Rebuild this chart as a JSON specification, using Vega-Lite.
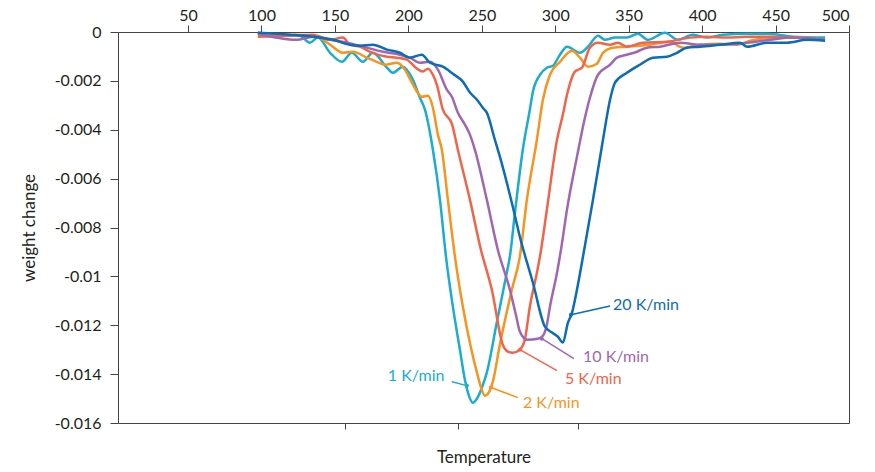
{
"$schema": "https://vega.github.io/schema/vega-lite/v6.json",
"width": 731, "height": 391,
"autosize": {"type": "none"},
"padding": {"left": 118, "top": 32, "right": 26, "bottom": 49},
"background": "white",
"config": {"font": "Lato", "view": {"stroke": "#444", "strokeWidth": 1},
 "axis": {"labelFont": "Lato", "titleFont": "Lato", "labelFontSize": 16, "titleFontSize": 17, "titleFontWeight": "normal", "labelColor": "#231f20", "titleColor": "#231f20", "tickColor": "#444", "domainColor": "#444", "grid": false}},
"datasets": {
"curves": [
{"s":"1 K/min","T":97.5,"w":-0.00003},{"s":"1 K/min","T":112.5,"w":-0.00011},{"s":"1 K/min","T":126.1,"w":-0.00015},{"s":"1 K/min","T":132.9,"w":-0.00044},{"s":"1 K/min","T":138.4,"w":-0.00023},{"s":"1 K/min","T":146.7,"w":-0.00085},{"s":"1 K/min","T":154.8,"w":-0.00122},{"s":"1 K/min","T":161.5,"w":-0.00085},{"s":"1 K/min","T":169.0,"w":-0.00122},{"s":"1 K/min","T":175.8,"w":-0.00085},{"s":"1 K/min","T":185.4,"w":-0.00146},{"s":"1 K/min","T":189.4,"w":-0.00167},{"s":"1 K/min","T":196.2,"w":-0.00142},{"s":"1 K/min","T":202.4,"w":-0.00187},{"s":"1 K/min","T":207.9,"w":-0.00269},{"s":"1 K/min","T":211.3,"w":-0.00318},{"s":"1 K/min","T":216.7,"w":-0.00482},{"s":"1 K/min","T":221.5,"w":-0.00686},{"s":"1 K/min","T":225.6,"w":-0.00919},{"s":"1 K/min","T":230.3,"w":-0.01124},{"s":"1 K/min","T":235.1,"w":-0.013},{"s":"1 K/min","T":238.5,"w":-0.01423},{"s":"1 K/min","T":241.2,"w":-0.01488},{"s":"1 K/min","T":243.9,"w":-0.01517},{"s":"1 K/min","T":246.7,"w":-0.015},{"s":"1 K/min","T":250.1,"w":-0.01455},{"s":"1 K/min","T":253.4,"w":-0.01394},{"s":"1 K/min","T":260.2,"w":-0.01189},{"s":"1 K/min","T":267.0,"w":-0.00985},{"s":"1 K/min","T":269.1,"w":-0.00919},{"s":"1 K/min","T":272.5,"w":-0.00743},{"s":"1 K/min","T":277.9,"w":-0.00482},{"s":"1 K/min","T":282.7,"w":-0.00318},{"s":"1 K/min","T":284.8,"w":-0.00244},{"s":"1 K/min","T":289.6,"w":-0.00175},{"s":"1 K/min","T":294.3,"w":-0.00146},{"s":"1 K/min","T":298.4,"w":-0.00138},{"s":"1 K/min","T":303.2,"w":-0.00093},{"s":"1 K/min","T":308.0,"w":-0.0006},{"s":"1 K/min","T":316.8,"w":-0.00085},{"s":"1 K/min","T":322.3,"w":-0.0006},{"s":"1 K/min","T":329.1,"w":-0.00015},{"s":"1 K/min","T":333.8,"w":-0.00032},{"s":"1 K/min","T":340.7,"w":-0.00023},{"s":"1 K/min","T":348.8,"w":-0.00023},{"s":"1 K/min","T":356.3,"w":-0.00007},{"s":"1 K/min","T":363.1,"w":-0.00032},{"s":"1 K/min","T":374.7,"w":-0.00003},{"s":"1 K/min","T":383.5,"w":-0.00032},{"s":"1 K/min","T":393.7,"w":-0.00011},{"s":"1 K/min","T":403.3,"w":-0.00023},{"s":"1 K/min","T":414.2,"w":-0.00011},{"s":"1 K/min","T":430.6,"w":-0.00007},{"s":"1 K/min","T":444.2,"w":-0.00007},{"s":"1 K/min","T":461.9,"w":-0.00019},{"s":"1 K/min","T":483.7,"w":-0.00023},
{"s":"2 K/min","T":97.5,"w":-0.00011},{"s":"2 K/min","T":124.0,"w":-0.00011},{"s":"2 K/min","T":137.7,"w":-0.00019},{"s":"2 K/min","T":146.7,"w":-0.00052},{"s":"2 K/min","T":155.4,"w":-0.00085},{"s":"2 K/min","T":162.2,"w":-0.00081},{"s":"2 K/min","T":171.7,"w":-0.00105},{"s":"2 K/min","T":178.5,"w":-0.00122},{"s":"2 K/min","T":184.0,"w":-0.00134},{"s":"2 K/min","T":192.1,"w":-0.00126},{"s":"2 K/min","T":197.6,"w":-0.00154},{"s":"2 K/min","T":202.4,"w":-0.00207},{"s":"2 K/min","T":209.2,"w":-0.00265},{"s":"2 K/min","T":213.3,"w":-0.00261},{"s":"2 K/min","T":216.7,"w":-0.0031},{"s":"2 K/min","T":220.1,"w":-0.0042},{"s":"2 K/min","T":222.8,"w":-0.00482},{"s":"2 K/min","T":226.9,"w":-0.00686},{"s":"2 K/min","T":231.7,"w":-0.00919},{"s":"2 K/min","T":237.1,"w":-0.01124},{"s":"2 K/min","T":242.6,"w":-0.01292},{"s":"2 K/min","T":246.7,"w":-0.01394},{"s":"2 K/min","T":249.3,"w":-0.01451},{"s":"2 K/min","T":252.1,"w":-0.01488},{"s":"2 K/min","T":254.8,"w":-0.01475},{"s":"2 K/min","T":257.5,"w":-0.01431},{"s":"2 K/min","T":262.3,"w":-0.01279},{"s":"2 K/min","T":270.5,"w":-0.01054},{"s":"2 K/min","T":275.9,"w":-0.00919},{"s":"2 K/min","T":280.7,"w":-0.00686},{"s":"2 K/min","T":287.5,"w":-0.00441},{"s":"2 K/min","T":291.6,"w":-0.00277},{"s":"2 K/min","T":296.4,"w":-0.00175},{"s":"2 K/min","T":303.2,"w":-0.00122},{"s":"2 K/min","T":311.4,"w":-0.00077},{"s":"2 K/min","T":316.8,"w":-0.00105},{"s":"2 K/min","T":322.3,"w":-0.00142},{"s":"2 K/min","T":328.4,"w":-0.0013},{"s":"2 K/min","T":332.5,"w":-0.00085},{"s":"2 K/min","T":339.3,"w":-0.00064},{"s":"2 K/min","T":348.8,"w":-0.0006},{"s":"2 K/min","T":364.5,"w":-0.00052},{"s":"2 K/min","T":378.1,"w":-0.0004},{"s":"2 K/min","T":386.9,"w":-0.00064},{"s":"2 K/min","T":398.5,"w":-0.00052},{"s":"2 K/min","T":412.1,"w":-0.00048},{"s":"2 K/min","T":423.7,"w":-0.00052},{"s":"2 K/min","T":432.7,"w":-0.00036},{"s":"2 K/min","T":448.3,"w":-0.00023},{"s":"2 K/min","T":466.7,"w":-0.00023},{"s":"2 K/min","T":483.7,"w":-0.00032},
{"s":"5 K/min","T":97.5,"w":-0.00019},{"s":"5 K/min","T":119.2,"w":-0.00015},{"s":"5 K/min","T":134.9,"w":-0.00011},{"s":"5 K/min","T":146.7,"w":-0.00032},{"s":"5 K/min","T":155.4,"w":-0.00023},{"s":"5 K/min","T":160.2,"w":-0.00052},{"s":"5 K/min","T":167.0,"w":-0.0006},{"s":"5 K/min","T":173.8,"w":-0.00081},{"s":"5 K/min","T":185.4,"w":-0.00101},{"s":"5 K/min","T":192.1,"w":-0.00105},{"s":"5 K/min","T":198.9,"w":-0.00113},{"s":"5 K/min","T":205.8,"w":-0.0015},{"s":"5 K/min","T":209.9,"w":-0.00162},{"s":"5 K/min","T":213.3,"w":-0.0015},{"s":"5 K/min","T":216.7,"w":-0.00175},{"s":"5 K/min","T":219.4,"w":-0.00216},{"s":"5 K/min","T":223.5,"w":-0.00318},{"s":"5 K/min","T":229.6,"w":-0.00375},{"s":"5 K/min","T":233.7,"w":-0.00482},{"s":"5 K/min","T":241.9,"w":-0.00686},{"s":"5 K/min","T":249.4,"w":-0.00891},{"s":"5 K/min","T":256.8,"w":-0.01054},{"s":"5 K/min","T":264.3,"w":-0.0128},{"s":"5 K/min","T":267.7,"w":-0.01308},{"s":"5 K/min","T":271.1,"w":-0.01313},{"s":"5 K/min","T":275.9,"w":-0.013},{"s":"5 K/min","T":279.3,"w":-0.01259},{"s":"5 K/min","T":282.7,"w":-0.01124},{"s":"5 K/min","T":287.5,"w":-0.00985},{"s":"5 K/min","T":289.6,"w":-0.00919},{"s":"5 K/min","T":294.3,"w":-0.00727},{"s":"5 K/min","T":301.2,"w":-0.00441},{"s":"5 K/min","T":305.2,"w":-0.00338},{"s":"5 K/min","T":308.0,"w":-0.00257},{"s":"5 K/min","T":313.4,"w":-0.00162},{"s":"5 K/min","T":318.2,"w":-0.00146},{"s":"5 K/min","T":323.6,"w":-0.00064},{"s":"5 K/min","T":329.1,"w":-0.00044},{"s":"5 K/min","T":337.3,"w":-0.00052},{"s":"5 K/min","T":342.7,"w":-0.00044},{"s":"5 K/min","T":348.8,"w":-0.0006},{"s":"5 K/min","T":359.7,"w":-0.00044},{"s":"5 K/min","T":376.0,"w":-0.0004},{"s":"5 K/min","T":391.7,"w":-0.00023},{"s":"5 K/min","T":403.3,"w":-0.00019},{"s":"5 K/min","T":416.9,"w":-0.00023},{"s":"5 K/min","T":430.6,"w":-0.00019},{"s":"5 K/min","T":444.2,"w":-0.00019},{"s":"5 K/min","T":461.9,"w":-0.00023},{"s":"5 K/min","T":483.7,"w":-0.00032},
{"s":"10 K/min","T":97.5,"w":-0.00007},{"s":"10 K/min","T":124.0,"w":-0.00032},{"s":"10 K/min","T":134.9,"w":-0.00019},{"s":"10 K/min","T":146.7,"w":-0.00032},{"s":"10 K/min","T":158.1,"w":-0.00044},{"s":"10 K/min","T":169.0,"w":-0.0006},{"s":"10 K/min","T":182.6,"w":-0.00081},{"s":"10 K/min","T":194.2,"w":-0.00093},{"s":"10 K/min","T":201.0,"w":-0.00105},{"s":"10 K/min","T":207.9,"w":-0.00126},{"s":"10 K/min","T":214.7,"w":-0.00122},{"s":"10 K/min","T":220.1,"w":-0.00154},{"s":"10 K/min","T":226.2,"w":-0.00236},{"s":"10 K/min","T":229.6,"w":-0.00265},{"s":"10 K/min","T":233.7,"w":-0.0033},{"s":"10 K/min","T":238.5,"w":-0.00379},{"s":"10 K/min","T":241.9,"w":-0.0042},{"s":"10 K/min","T":245.3,"w":-0.00482},{"s":"10 K/min","T":253.4,"w":-0.00686},{"s":"10 K/min","T":260.9,"w":-0.00891},{"s":"10 K/min","T":269.1,"w":-0.01054},{"s":"10 K/min","T":273.2,"w":-0.01157},{"s":"10 K/min","T":275.9,"w":-0.01226},{"s":"10 K/min","T":280.7,"w":-0.01259},{"s":"10 K/min","T":288.2,"w":-0.01255},{"s":"10 K/min","T":291.6,"w":-0.01243},{"s":"10 K/min","T":294.3,"w":-0.01198},{"s":"10 K/min","T":296.4,"w":-0.01124},{"s":"10 K/min","T":301.2,"w":-0.00985},{"s":"10 K/min","T":303.9,"w":-0.00891},{"s":"10 K/min","T":308.0,"w":-0.00727},{"s":"10 K/min","T":314.8,"w":-0.0051},{"s":"10 K/min","T":320.2,"w":-0.00351},{"s":"10 K/min","T":323.6,"w":-0.00269},{"s":"10 K/min","T":329.1,"w":-0.00175},{"s":"10 K/min","T":337.3,"w":-0.00134},{"s":"10 K/min","T":342.0,"w":-0.00105},{"s":"10 K/min","T":348.8,"w":-0.00093},{"s":"10 K/min","T":355.6,"w":-0.00081},{"s":"10 K/min","T":362.4,"w":-0.00064},{"s":"10 K/min","T":371.3,"w":-0.0006},{"s":"10 K/min","T":384.9,"w":-0.00044},{"s":"10 K/min","T":398.5,"w":-0.00052},{"s":"10 K/min","T":414.2,"w":-0.00052},{"s":"10 K/min","T":430.6,"w":-0.00044},{"s":"10 K/min","T":446.2,"w":-0.00032},{"s":"10 K/min","T":461.9,"w":-0.00023},{"s":"10 K/min","T":483.7,"w":-0.00032},
{"s":"20 K/min","T":97.5,"w":-0.00003},{"s":"20 K/min","T":119.2,"w":-0.00011},{"s":"20 K/min","T":134.9,"w":-0.00019},{"s":"20 K/min","T":148.7,"w":-0.00032},{"s":"20 K/min","T":160.2,"w":-0.00052},{"s":"20 K/min","T":167.0,"w":-0.00056},{"s":"20 K/min","T":175.8,"w":-0.00052},{"s":"20 K/min","T":185.4,"w":-0.00072},{"s":"20 K/min","T":194.2,"w":-0.00085},{"s":"20 K/min","T":201.0,"w":-0.00105},{"s":"20 K/min","T":209.2,"w":-0.00093},{"s":"20 K/min","T":214.7,"w":-0.00126},{"s":"20 K/min","T":223.5,"w":-0.00142},{"s":"20 K/min","T":230.3,"w":-0.00171},{"s":"20 K/min","T":237.1,"w":-0.00203},{"s":"20 K/min","T":241.9,"w":-0.00248},{"s":"20 K/min","T":246.7,"w":-0.00277},{"s":"20 K/min","T":250.7,"w":-0.0031},{"s":"20 K/min","T":253.4,"w":-0.0033},{"s":"20 K/min","T":258.9,"w":-0.00441},{"s":"20 K/min","T":262.3,"w":-0.0051},{"s":"20 K/min","T":271.1,"w":-0.00715},{"s":"20 K/min","T":275.9,"w":-0.00838},{"s":"20 K/min","T":284.8,"w":-0.01026},{"s":"20 K/min","T":293.0,"w":-0.01206},{"s":"20 K/min","T":297.8,"w":-0.0123},{"s":"20 K/min","T":301.8,"w":-0.01247},{"s":"20 K/min","T":305.2,"w":-0.01271},{"s":"20 K/min","T":308.6,"w":-0.0119},{"s":"20 K/min","T":311.4,"w":-0.01149},{"s":"20 K/min","T":314.8,"w":-0.01054},{"s":"20 K/min","T":318.9,"w":-0.00919},{"s":"20 K/min","T":325.7,"w":-0.00686},{"s":"20 K/min","T":332.5,"w":-0.00441},{"s":"20 K/min","T":337.3,"w":-0.00277},{"s":"20 K/min","T":340.7,"w":-0.00207},{"s":"20 K/min","T":348.8,"w":-0.00167},{"s":"20 K/min","T":357.6,"w":-0.00134},{"s":"20 K/min","T":366.5,"w":-0.00105},{"s":"20 K/min","T":376.0,"w":-0.00101},{"s":"20 K/min","T":382.8,"w":-0.00085},{"s":"20 K/min","T":389.6,"w":-0.00064},{"s":"20 K/min","T":398.5,"w":-0.0006},{"s":"20 K/min","T":412.1,"w":-0.00052},{"s":"20 K/min","T":425.8,"w":-0.00044},{"s":"20 K/min","T":430.6,"w":-0.0006},{"s":"20 K/min","T":444.2,"w":-0.00044},{"s":"20 K/min","T":457.8,"w":-0.00044},{"s":"20 K/min","T":471.5,"w":-0.00032},{"s":"20 K/min","T":483.7,"w":-0.00036}
],
"leaders": [
{"s":"1 K/min","T":229.6,"w":-0.01431,"T2":239.8,"w2":-0.01447},
{"s":"2 K/min","T":274.6,"w":-0.01496,"T2":256.2,"w2":-0.01455},
{"s":"5 K/min","T":301.2,"w":-0.01386,"T2":275.9,"w2":-0.013},
{"s":"10 K/min","T":312.7,"w":-0.01337,"T2":290.9,"w2":-0.01255},
{"s":"20 K/min","T":337.3,"w":-0.01121,"T2":310.7,"w2":-0.01157}
],
"dots": [
{"s":"1 K/min","T":239.8,"w":-0.01447},
{"s":"2 K/min","T":256.2,"w":-0.01455},
{"s":"5 K/min","T":275.9,"w":-0.013},
{"s":"10 K/min","T":290.9,"w":-0.01255},
{"s":"20 K/min","T":310.7,"w":-0.01157}
],
"labels": [
{"s":"1 K/min","T":186.0,"w":-0.01406},
{"s":"2 K/min","T":278.0,"w":-0.01517},
{"s":"5 K/min","T":306.6,"w":-0.01419},
{"s":"10 K/min","T":318.9,"w":-0.01329},
{"s":"20 K/min","T":339.3,"w":-0.01116}
]
},
"resolve": {"axis": {"x": "independent"}},
"encoding": {
 "y": {"field": "w", "type": "quantitative", "scale": {"domain": [-0.016, 0], "nice": false, "zero": false},
  "axis": {"values": [0, -0.002, -0.004, -0.006, -0.008, -0.01, -0.012, -0.014, -0.016], "labelExpr": "'' + datum.value", "tickSize": 8, "labelPadding": 9, "domain": false, "title": "weight change", "titlePadding": 16}},
 "color": {"field": "s", "type": "nominal", "scale": {"domain": ["1 K/min", "2 K/min", "5 K/min", "10 K/min", "20 K/min"], "range": ["#1AADCE", "#F7941D", "#F0654A", "#A067B0", "#0C6CB5"]}, "legend": null}
},
"layer": [
 {"data": {"name": "curves"}, "mark": {"type": "line", "strokeWidth": 2.5, "interpolate": "monotone"},
  "encoding": {"x": {"field": "T", "type": "quantitative", "scale": {"domain": [2.3, 500], "nice": false, "zero": false},
   "axis": {"orient": "top", "values": [50, 100, 150, 200, 250, 300, 350, 400, 450, 500], "tickSize": 7, "labelPadding": 2, "domain": false, "title": null}}}},
 {"data": {"name": "leaders"}, "mark": {"type": "rule", "strokeWidth": 1.5},
  "encoding": {"x": {"field": "T", "type": "quantitative", "scale": {"domain": [2.3, 500], "nice": false, "zero": false},
   "axis": {"orient": "bottom", "values": [156.7, 234, 315.5], "labels": false, "tickSize": 6, "domain": false, "title": "Temperature", "titlePadding": 20}},
   "x2": {"field": "T2"}, "y2": {"field": "w2"}}},
 {"data": {"name": "dots"}, "mark": {"type": "point", "filled": true, "size": 16, "opacity": 1},
  "encoding": {"x": {"field": "T", "type": "quantitative", "scale": {"domain": [2.3, 500], "nice": false, "zero": false}, "axis": null}}},
 {"data": {"name": "labels"}, "mark": {"type": "text", "align": "left", "baseline": "middle", "fontSize": 16, "font": "Lato"},
  "encoding": {"x": {"field": "T", "type": "quantitative", "scale": {"domain": [2.3, 500], "nice": false, "zero": false}, "axis": null}, "text": {"field": "s"}}}
]
}
